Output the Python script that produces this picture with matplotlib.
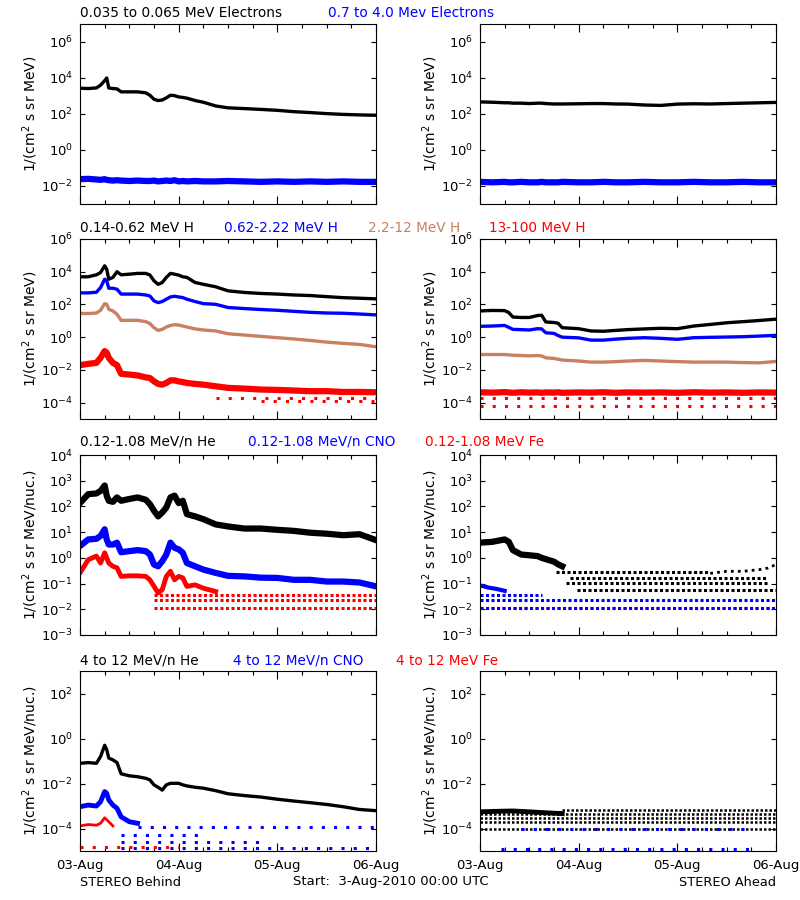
import numpy as np
import matplotlib
matplotlib.use("Agg")
import matplotlib.pyplot as plt

# hours since 3-Aug-2010 00:00 UTC
t_behind = [0, 2, 4, 5, 6, 6.5, 7, 8, 9, 10, 12, 14, 16, 17, 18, 19, 20, 21, 22, 23, 24, 25,
            26, 28, 30, 33, 36, 40, 44, 48, 52, 56, 60, 64, 68, 72]
t_ahead = [0, 3, 6, 7, 8, 10, 12, 14, 15, 16, 18, 19, 20, 24, 27, 30, 33, 36, 40, 44, 48, 52,
           56, 60, 64, 68, 72]

# ---- electrons
e_lo_b = [2700, 2600, 2800, 4000, 7100, 1.0e4, 2800, 2600, 2500, 1700, 1700, 1700, 1500, 1100,
          660, 560, 600, 790, 1100, 1050, 890, 830, 760, 560, 450, 280, 220, 200, 180, 160, 135,
          120, 105, 95, 89, 85]
e_hi_b = [0.024, 0.025, 0.023, 0.022, 0.024, 0.022, 0.021, 0.020, 0.021, 0.020, 0.019, 0.020,
          0.019, 0.019, 0.020, 0.018, 0.019, 0.020, 0.019, 0.021, 0.018, 0.019, 0.018, 0.019,
          0.018, 0.018, 0.019, 0.018, 0.017, 0.018, 0.017, 0.018, 0.017, 0.018, 0.017, 0.017]
e_lo_a = [470, 450, 420, 420, 400, 400, 380, 400, 400, 380, 360, 360, 360, 370, 380, 380, 360,
          355, 315, 300, 355, 370, 360, 380, 400, 420, 440]
e_hi_a = [0.017, 0.016, 0.017, 0.016, 0.016, 0.017, 0.016, 0.016, 0.017, 0.016, 0.016, 0.016,
          0.017, 0.016, 0.016, 0.017, 0.016, 0.016, 0.017, 0.016, 0.016, 0.017, 0.016, 0.016,
          0.017, 0.016, 0.016]

# ---- protons
h1_b = [4900, 4900, 6500, 8900, 2.3e4, 1.4e4, 3500, 4500, 1.0e4, 6500, 7100, 7900, 7900, 6300,
        2800, 1700, 2200, 4500, 7900, 7100, 6200, 4900, 4500, 2200, 1700, 1200, 680, 540, 470,
        430, 380, 350, 300, 260, 240, 220]
h2_b = [510, 510, 560, 1070, 3500, 2800, 980, 980, 850, 430, 430, 430, 380, 330, 166, 129, 151,
        209, 288, 316, 288, 263, 209, 151, 112, 102, 65, 56, 49, 44, 38, 33, 30, 29, 26, 23]
h3_b = [28, 28, 30, 44, 112, 102, 51, 40, 25, 10.7, 10.7, 10.7, 8.9, 6.8, 3.8, 2.6, 3.0, 4.2,
        5.2, 5.8, 5.5, 4.8, 4.2, 3.2, 2.75, 2.4, 1.62, 1.35, 1.12, 0.93, 0.78, 0.63, 0.5, 0.42,
        0.36, 0.26]
h4_b = [0.0195, 0.0234, 0.027, 0.055, 0.141, 0.112, 0.055, 0.027, 0.0195, 0.0058, 0.0052,
        0.0046, 0.0035, 0.0032, 0.002, 0.0014, 0.00126, 0.0016, 0.0023, 0.0023, 0.002, 0.0018,
        0.0016, 0.0014, 0.00126, 0.001, 0.0008, 0.00072, 0.00063, 0.0006, 0.00055, 0.0005,
        0.0005, 0.00045, 0.00045, 0.00043]
h1_a = [40, 43, 42, 32, 17, 16, 16, 21, 22, 8.5, 7.9, 7.1, 3.8, 3.3, 2.4, 2.3, 2.6, 2.9, 3.2,
        3.5, 3.3, 4.8, 6.0, 7.6, 8.9, 10.5, 12.6]
h2_a = [4.6, 4.8, 5.2, 4.0, 3.0, 2.9, 2.75, 3.3, 3.2, 1.86, 1.7, 1.26, 1.0, 0.91, 0.66, 0.66,
        0.76, 0.85, 0.93, 0.85, 0.74, 0.93, 0.98, 1.02, 1.07, 1.17, 1.29]
h3_a = [0.087, 0.087, 0.087, 0.083, 0.079, 0.076, 0.072, 0.076, 0.071, 0.055, 0.05, 0.045, 0.04,
        0.035, 0.03, 0.03, 0.032, 0.035, 0.038, 0.035, 0.032, 0.03, 0.03, 0.03, 0.028, 0.027,
        0.033]
h4_a = [4.3e-4, 4.1e-4, 4.4e-4, 4.2e-4, 4.0e-4, 4.3e-4, 4.1e-4, 4.2e-4, 4.0e-4, 4.2e-4, 4.1e-4,
        4.3e-4, 4.0e-4, 4.2e-4, 4.1e-4, 4.3e-4, 4.0e-4, 4.2e-4, 4.1e-4, 4.2e-4, 4.0e-4, 4.3e-4,
        4.1e-4, 4.2e-4, 4.0e-4, 4.2e-4, 4.1e-4]

# ---- low energy ions (0.12-1.08 MeV/n)
he_lo_b = [135, 300, 320, 400, 650, 260, 166, 151, 224, 166, 195, 224, 182, 123, 68, 41, 58, 91,
           224, 263, 135, 166, 50, 41, 32, 20, 16.6, 13.8, 13.8, 12.3, 11.2, 9.5, 8.7, 7.6, 8.3,
           4.9]
cno_lo_b = [2.9, 5.2, 5.5, 7.1, 12.9, 5.2, 3.3, 3.3, 3.9, 1.66, 1.82, 2.0, 1.82, 1.35, 0.55,
            0.47, 0.74, 1.35, 3.9, 2.45, 2.14, 1.58, 0.63, 0.47, 0.35, 0.26, 0.2, 0.19, 0.17,
            0.166, 0.14, 0.14, 0.12, 0.12, 0.11, 0.078]
fe_lo_b = [0.26, 0.85, 1.17, 0.63, 1.58, 1.0, 0.63, 0.47, 0.41, 0.19, 0.2, 0.2, 0.19, 0.14,
           0.078, 0.043, 0.058, 0.19, 0.3, 0.14, 0.19, 0.166, 0.078, 0.089, 0.066, 0.049]
he_lo_a = [3.9, 4.2, 5.2, 4.2, 2.0, 1.35, 1.26, 1.17, 1.0, 0.89, 0.71, 0.56, 0.47]
he_lo_a_tail_t = [56, 60, 64, 68, 70, 72]
he_lo_a_tail = [0.25, 0.3, 0.3, 0.35, 0.4, 0.55]
cno_lo_a_t = [0, 2, 4, 6]
cno_lo_a = [0.085, 0.07, 0.062, 0.052]

# ---- high energy ions (4-12 MeV/n)
he_hi_b = [0.079, 0.085, 0.079, 0.158, 0.5, 0.32, 0.135, 0.112, 0.085, 0.027, 0.022, 0.02,
           0.017, 0.0145, 0.0087, 0.0068, 0.0051, 0.0087, 0.0102, 0.0102, 0.0102, 0.0087, 0.0078,
           0.0068, 0.0062, 0.0048, 0.0035, 0.0029, 0.0025, 0.002, 0.00166, 0.0014, 0.00117,
           0.00093, 0.0007, 0.00062]
cno_hi_b = [9.3e-4, 1.1e-3, 1.0e-3, 1.55e-3, 4.4e-3, 3.7e-3, 1.86e-3, 1.1e-3, 7.9e-4, 3.3e-4,
            2.0e-4, 1.7e-4]
fe_hi_b_t = [0, 2, 4, 5, 6, 7, 8]
fe_hi_b = [1.3e-4, 1.5e-4, 1.4e-4, 1.7e-4, 3.0e-4, 2.0e-4, 1.3e-4]
he_hi_a_t = [0, 4, 8, 12, 16, 20]
he_hi_a = [5.5e-4, 5.8e-4, 6.0e-4, 5.5e-4, 5.0e-4, 4.6e-4]

# count-floor rows: (level, start hour, end hour)
rows_h4_b = [(1.9e-4, 33, 72), (1.2e-4, 44, 72)]
rows_h4_a = [(1.9e-4, 0, 72), (6e-5, 0, 72)]
rows_fe_lo_b = [(0.035, 18, 72), (0.023, 18, 72), (0.011, 18, 72)]
rows_he_lo_a = [(0.28, 18.6, 56), (0.166, 22, 70), (0.105, 21, 70), (0.054, 23.5, 72)]
rows_cno_lo_a = [(0.036, 0, 15), (0.023, 0, 72), (0.011, 0, 72)]
rows_fe_lo_a = [(0.011, 0, 72)]
rows_cno_hi_b = [(1.2e-4, 14, 72), (5.1e-5, 10, 30), (2.6e-5, 10, 45), (1.3e-5, 10, 72)]
rows_fe_hi_b = [(1.5e-5, 0, 24)]
rows_he_hi_a = [(6.6e-4, 20, 72), (4.4e-4, 0, 72), (3.0e-4, 0, 72), (2.0e-4, 0, 72),
                (1.0e-4, 0, 72)]
rows_cno_hi_a = [(1.0e-4, 10, 66), (1.2e-5, 5, 66)]

day_ticks = [0, 24, 48, 72]
day_labels = ["03-Aug", "04-Aug", "05-Aug", "06-Aug"]
y_ticks = [[1e6, 1e4, 1e2, 1e0, 1e-2],
           [1e6, 1e4, 1e2, 1e0, 1e-2, 1e-4],
           [1e4, 1e3, 1e2, 1e1, 1e0, 1e-1, 1e-2, 1e-3],
           [1e2, 1e0, 1e-2, 1e-4]]

BROWN = "#C97F62"
plt.rcParams["font.family"] = "DejaVu Sans"
fig = plt.figure(figsize=(8, 9), dpi=100)

tops = [24, 239, 455, 671]
ylims = [(1e-3, 1e7), (1e-5, 1e6), (1e-3, 1e4), (1e-5, 1e3)]
ylabels = ["1/(cm$^2$ s sr MeV)", "1/(cm$^2$ s sr MeV)",
           "1/(cm$^2$ s sr MeV/nuc.)", "1/(cm$^2$ s sr MeV/nuc.)"]

axes = []
for r in range(4):
    row = []
    for c, x0 in enumerate([80, 480]):
        ax = fig.add_axes([x0 / 800, 1 - (tops[r] + 180) / 900, 296 / 800, 180 / 900])
        ax.set_yscale("log")
        ax.set_ylim(*ylims[r])
        ax.set_xlim(0, 72)
        ax.set_yticks(y_ticks[r])
        ax.yaxis.set_minor_locator(matplotlib.ticker.NullLocator())
        ax.set_xticks(day_ticks)
        ax.set_xticks(range(0, 73, 6), minor=True)
        ax.set_xticklabels(day_labels if r == 3 else [])
        ax.tick_params(which="both", direction="in", top=True, right=True, labelsize=9.5,
                       width=0.8)
        ax.tick_params(axis="y", which="major", length=3.5, pad=5)
        ax.tick_params(axis="x", which="major", length=6, pad=6)
        ax.tick_params(axis="x", which="minor", length=3)
        ax.set_ylabel(ylabels[r], fontsize=10, labelpad=1)
        for s in ax.spines.values():
            s.set_linewidth(0.8)
        row.append(ax)
    axes.append(row)


def rows(ax, spec, color, dense=True, lw=2.2):
    for lev, a, b in spec:
        ax.hlines(lev, a, b, colors=color, lw=lw,
                  linestyles=(0, (1, 0.8)) if dense else (0, (1, 3)))


LW = 2.4
NOISY = 4.5

ax = axes[0][0]
ax.plot(t_behind, e_lo_b, color="black", lw=LW)
ax.plot(t_behind, e_hi_b, color="blue", lw=NOISY)
ax = axes[0][1]
ax.plot(t_ahead, e_lo_a, color="black", lw=LW)
ax.plot(t_ahead, e_hi_a, color="blue", lw=NOISY)

ax = axes[1][0]
ax.plot(t_behind, h1_b, color="black", lw=LW)
ax.plot(t_behind, h2_b, color="blue", lw=LW)
ax.plot(t_behind, h3_b, color=BROWN, lw=LW)
rows(ax, rows_h4_b, "red", dense=False)
ax.plot(t_behind, h4_b, color="red", lw=NOISY)
ax = axes[1][1]
ax.plot(t_ahead, h1_a, color="black", lw=LW)
ax.plot(t_ahead, h2_a, color="blue", lw=LW)
ax.plot(t_ahead, h3_a, color=BROWN, lw=LW)
rows(ax, rows_h4_a, "red", dense=False)
ax.plot(t_ahead, h4_a, color="red", lw=NOISY)

ax = axes[2][0]
ax.plot(t_behind, he_lo_b, color="black", lw=NOISY)
ax.plot(t_behind, cno_lo_b, color="blue", lw=NOISY)
rows(ax, rows_fe_lo_b, "red")
ax.plot(t_behind[:len(fe_lo_b)], fe_lo_b, color="red", lw=NOISY - 1)
ax = axes[2][1]
ax.plot(t_ahead[:len(he_lo_a)], he_lo_a, color="black", lw=NOISY)
rows(ax, rows_he_lo_a, "black")
ax.plot(he_lo_a_tail_t, he_lo_a_tail, color="black", lw=2, ls=(0, (1, 1.5)))
rows(ax, rows_fe_lo_a, "red")
rows(ax, rows_cno_lo_a, "blue")
ax.plot(cno_lo_a_t, cno_lo_a, color="blue", lw=NOISY - 1.5)

ax = axes[3][0]
ax.plot(t_behind, he_hi_b, color="black", lw=LW)
rows(ax, rows_cno_hi_b, "blue", dense=False)
ax.plot(t_behind[:len(cno_hi_b)], cno_hi_b, color="blue", lw=NOISY - 1)
rows(ax, rows_fe_hi_b, "red", dense=False)
ax.plot(fe_hi_b_t, fe_hi_b, color="red", lw=2)
ax = axes[3][1]
rows(ax, rows_he_hi_a, "black", lw=1.8)
ax.plot(he_hi_a_t, he_hi_a, color="black", lw=NOISY - 1)
rows(ax, rows_cno_hi_a, "blue", dense=False)

# row titles
titles = [
    [(80, "0.035 to 0.065 MeV Electrons", "black"), (328, "0.7 to 4.0 Mev Electrons", "blue")],
    [(80, "0.14-0.62 MeV H", "black"), (224, "0.62-2.22 MeV H", "blue"),
     (368, "2.2-12 MeV H", BROWN), (489, "13-100 MeV H", "red")],
    [(80, "0.12-1.08 MeV/n He", "black"), (248, "0.12-1.08 MeV/n CNO", "blue"),
     (425, "0.12-1.08 MeV Fe", "red")],
    [(80, "4 to 12 MeV/n He", "black"), (233, "4 to 12 MeV/n CNO", "blue"),
     (396, "4 to 12 MeV Fe", "red")],
]
title_y = [13, 228, 442, 661]
for r in range(4):
    for x, s, col in titles[r]:
        fig.text(x / 800, 1 - title_y[r] / 900, s, color=col, fontsize=9.8, va="center", ha="left")

fig.text(80 / 800, 1 - 882 / 900, "STEREO Behind", fontsize=9.3, va="center")
fig.text(293 / 800, 1 - 882 / 900, "Start:  3-Aug-2010 00:00 UTC", fontsize=9.5, va="center")
fig.text(776 / 800, 1 - 882 / 900, "STEREO Ahead", fontsize=9.3, va="center", ha="right")

fig.savefig("out.png", dpi=100)
